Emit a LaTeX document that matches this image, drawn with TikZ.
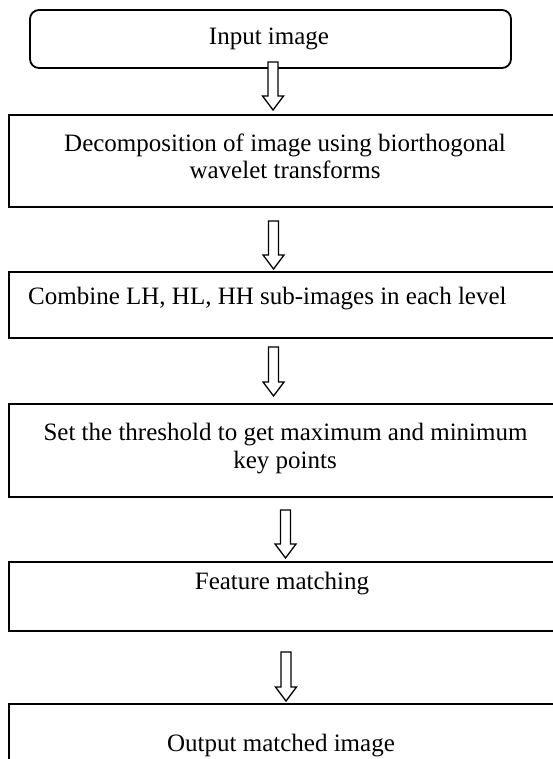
\documentclass[tikz,border=0pt]{standalone}
\usepackage{fontspec}
\setmainfont{Liberation Serif}
\usetikzlibrary{calc}

\tikzset{
  stepbox/.style={draw, line width=1.8pt, rectangle, inner sep=0pt},
  startbox/.style={stepbox, rounded corners=9pt},
  steptext/.style={inner sep=0pt, anchor=base, font=\fontsize{25}{30}\selectfont},
  blockarrow/.style={draw, fill=white, line width=1.3pt, line join=miter},
}

% Hollow block arrow from the top-centre point #1 down to the tip #2
\newcommand\blockarrow[2]{%
  \path[blockarrow] let \p1=(#1), \p2=(#2) in
    (\x1-5pt,\y1) -- (\x1+5pt,\y1) -- (\x1+5pt,\y2+14pt) -- (\x1+10.5pt,\y2+14pt)
    -- (\x1,\y2) -- (\x1-10.5pt,\y2+14pt) -- (\x1-5pt,\y2+14pt) -- cycle;}

\begin{document}
\begin{tikzpicture}[x=1pt,y=-1pt]
\useasboundingbox (0,0) rectangle (553,759);
\clip (0,0) rectangle (553,759);

% boxes
\node[startbox, minimum width=481pt, minimum height=58pt] (b1) at (270.5,39) {};
\node[stepbox, minimum width=561pt, minimum height=92pt] (b2) at (289.5,161) {};
\node[stepbox, minimum width=561pt, minimum height=66pt] (b3) at (289.5,305) {};
\node[stepbox, minimum width=561pt, minimum height=93pt] (b4) at (289.5,450.5) {};
\node[stepbox, minimum width=561pt, minimum height=69pt] (b5) at (289.5,596.5) {};
\node[stepbox, minimum width=561pt, minimum height=86pt] (b6) at (289.5,747) {};

% texts
\node[steptext] (t1) at (269,44.5) {Input image};
\node[steptext] (t2a) at (285,151.5) {Decomposition of image using biorthogonal};
\node[steptext] (t2b) at (285,178.5) {wavelet transforms};
\node[steptext, anchor=base west] (t3) at (28,304) {Combine LH, HL, HH sub-images in each level};
\node[steptext] (t4a) at (285.5,440) {Set the threshold to get maximum and minimum};
\node[steptext] (t4b) at (285,468) {key points};
\node[steptext] (t5) at (282,589.5) {Feature matching};
\node[steptext] (t6) at (281,751.5) {Output matched image};

% arrow ends
\coordinate (a1s) at (273,62);    \coordinate (a1e) at (273,110);
\coordinate (a2s) at (273.5,221); \coordinate (a2e) at (273.5,269);
\coordinate (a3s) at (273.5,347); \coordinate (a3e) at (273.5,396);
\coordinate (a4s) at (285.5,510); \coordinate (a4e) at (285.5,558);
\coordinate (a5s) at (286,652);   \coordinate (a5e) at (286,701);

\blockarrow{a1s}{a1e}
\blockarrow{a2s}{a2e}
\blockarrow{a3s}{a3e}
\blockarrow{a4s}{a4e}
\blockarrow{a5s}{a5e}
\end{tikzpicture}
\end{document}
